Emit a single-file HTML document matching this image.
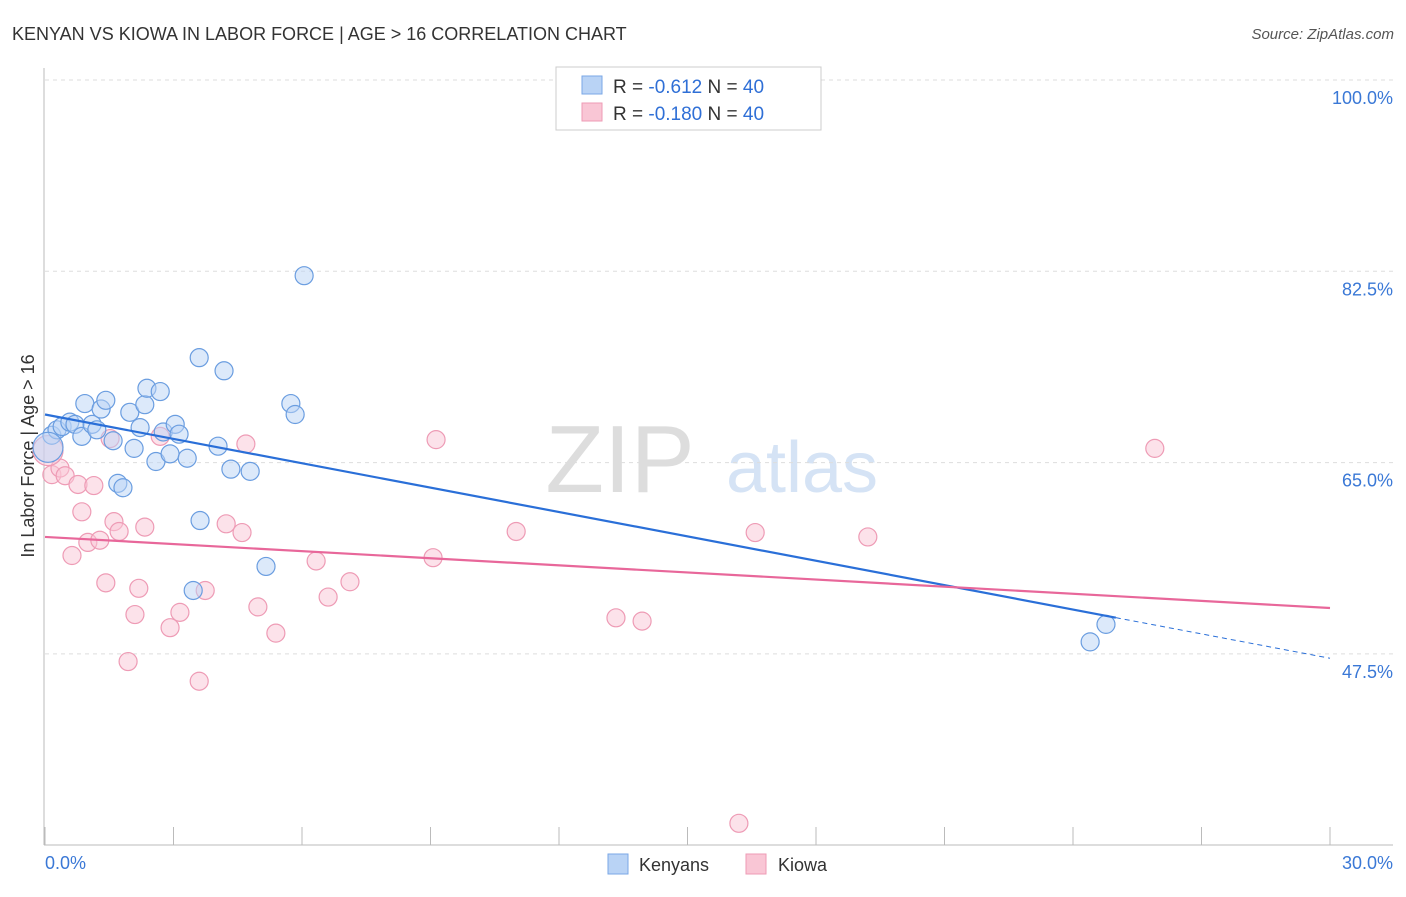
<!DOCTYPE html>
<html><head><meta charset="utf-8"><style>
body{margin:0;background:#fff;font-family:"Liberation Sans",sans-serif}
svg text{font-family:"Liberation Sans",sans-serif}
</style></head><body>
<svg width="1406" height="892" id="c">
<text x="12" y="40" font-size="18" fill="#333">KENYAN VS KIOWA IN LABOR FORCE | AGE &gt; 16 CORRELATION CHART</text>
<text x="1394" y="39" font-size="15" fill="#555" font-style="italic" text-anchor="end">Source: ZipAtlas.com</text>
<text x="620" y="492" font-size="96" fill="#ddd" font-family="Liberation Serif" text-anchor="middle">ZIP</text>
<text x="802" y="492" font-size="72" fill="#d5e3f5" text-anchor="middle">atlas</text>
<text transform="translate(34,456) rotate(-90)" font-size="18" fill="#333" text-anchor="middle">In Labor Force | Age &gt; 16</text>
<g id="grid"></g><g id="marks"></g>
<g>
<rect x="556" y="67" width="265" height="63" fill="#fff" stroke="#ccc"/>
<rect x="582" y="76" width="20" height="18" fill="#b9d3f5" stroke="#7aa7e6"/>
<rect x="582" y="103" width="20" height="18" fill="#f9c6d5" stroke="#ee9bb5"/>
<text x="613" y="93" font-size="19" fill="#333">R = <tspan fill="#2f6fd6">-0.612</tspan>   N = <tspan fill="#2f6fd6">40</tspan></text>
<text x="613" y="120" font-size="19" fill="#333">R = <tspan fill="#2f6fd6">-0.180</tspan>   N = <tspan fill="#2f6fd6">40</tspan></text>
</g>
<g>
<rect x="608" y="854" width="20" height="20" fill="#b9d3f5" stroke="#7aa7e6"/>
<text x="639" y="871" font-size="18" fill="#333">Kenyans</text>
<rect x="746" y="854" width="20" height="20" fill="#f9c6d5" stroke="#ee9bb5"/>
<text x="778" y="871" font-size="18" fill="#333">Kiowa</text>
</g>
</svg>
<script>
const yTicks=[100,82.5,65,47.5];
const yTickLabels=["100.0%","82.5%","65.0%","47.5%"];
const xTickVals=[0,3,6,9,12,15,18,21,24,27,30];
const blueX=[0.16,0.28,0.40,0.58,0.70,0.93,0.86,1.10,1.21,1.31,1.42,1.59,1.70,1.82,1.98,2.08,2.22,2.33,2.38,2.59,2.69,2.76,2.92,3.04,3.13,3.32,3.60,3.62,3.46,4.04,4.18,4.34,4.79,5.16,5.74,5.84,6.05,24.40,24.77,0.07];
const blueY=[67.5,68.0,68.3,68.7,68.5,70.4,67.4,68.5,68.0,69.9,70.7,67.0,63.1,62.7,69.6,66.3,68.2,70.3,71.8,65.1,71.5,67.8,65.8,68.5,67.6,65.4,74.6,59.7,53.3,66.5,73.4,64.4,64.2,55.5,70.4,69.4,82.1,48.6,50.2,66.4];
const pinkX=[0.16,0.35,0.47,0.63,0.77,0.86,1.00,1.14,1.28,1.42,1.52,1.61,1.73,1.94,2.10,2.19,2.33,2.69,2.92,3.15,3.60,3.74,4.23,4.60,4.69,4.97,5.39,6.33,6.61,7.12,9.06,9.13,11.00,13.33,13.94,16.20,16.58,19.21,25.91,0.07];
const pinkY=[63.9,64.5,63.8,56.5,63.0,60.5,57.7,62.9,57.9,54.0,67.2,59.6,58.7,46.8,51.1,53.5,59.1,67.4,49.9,51.3,45.0,53.3,59.4,58.6,66.7,51.8,49.4,56.0,52.7,54.1,56.3,67.1,58.7,50.8,50.5,32.0,58.6,58.2,66.3,66.1];
const blueTrend=[69.4,47.1], blueSolidEnd=25.0;
const pinkTrend=[58.2,51.7];
const X=v=>45+v/30*1285, Y=v=>80+(100-v)/17.5*191.3;
const NS="http://www.w3.org/2000/svg";
function mk(t,a,p){const e=document.createElementNS(NS,t);for(const k in a)e.setAttribute(k,a[k]);p.appendChild(e);return e;}
const g=document.getElementById('grid'), m=document.getElementById('marks');
yTicks.forEach((t,i)=>{const l=mk('line',{x1:45,x2:1393,y1:Y(t),y2:Y(t),stroke:'#ddd','stroke-dasharray':'4,4'},g);

const tx=mk('text',{x:1393,y:Y(t)+24,'font-size':18,fill:'#3a78d6','text-anchor':'end'},g);tx.textContent=yTickLabels[i];
});
const ax=mk('line',{x1:44,x2:44,y1:68,y2:845,stroke:'#bbb'},g);
const bx=mk('line',{x1:44,x2:1393,y1:845,y2:845,stroke:'#bbb'},g);
xTickVals.forEach(v=>{const l=mk('line',{x1:X(v),x2:X(v),y1:827,y2:845,stroke:'#bbb'},g);});
[[0,'0.0%','start',45],[30,'30.0%','end',1393]].forEach(d=>{const t=mk('text',{x:d[3],y:869,'font-size':18,fill:'#3a78d6','text-anchor':d[2]},g);t.textContent=d[1];});
function pts(xs,ys,fill,stroke,name){xs.forEach((x,i)=>{const big=i===xs.length-1;const c=mk('circle',{cx:X(x),cy:Y(ys[i]),r:big?15:9,fill:fill,'fill-opacity':0.5,stroke:stroke,'stroke-width':1.2},m);
});}
pts(pinkX,pinkY,'#f9c6d5','#ee9bb5','kiowa-point');
pts(blueX,blueY,'#b9d3f5','#6a9de0','kenyan-point');
const by=x=>blueTrend[0]+(blueTrend[1]-blueTrend[0])*x/30;
let l=mk('line',{x1:X(0),y1:Y(by(0)),x2:X(blueSolidEnd),y2:Y(by(blueSolidEnd)),stroke:'#2a6fd8','stroke-width':2.2},m);

l=mk('line',{x1:X(blueSolidEnd),y1:Y(by(blueSolidEnd)),x2:X(30),y2:Y(by(30)),stroke:'#2a6fd8','stroke-width':1,'stroke-dasharray':'5,4'},m);

l=mk('line',{x1:X(0),y1:Y(pinkTrend[0]),x2:X(30),y2:Y(pinkTrend[1]),stroke:'#e8679a','stroke-width':2.2},m);

</script>
</body></html>
